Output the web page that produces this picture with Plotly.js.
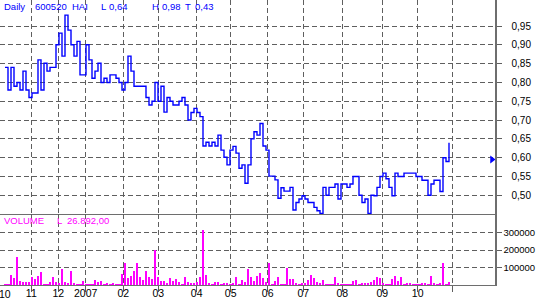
<!DOCTYPE html>
<html>
<head>
<meta charset="utf-8">
<script src="https://cdn.plot.ly/plotly-3.0.1.min.js"></script>
<style>html,body{margin:0;padding:0;background:#fff;}#chart{width:536px;height:303px;}</style>
</head>
<body>
<div id="chart"></div>
<script>
// ---- data (one entry per trading day, Oct 2006 .. Oct 2007) ----
const closePrices = [
0.84,0.78,0.84,0.79,0.80,0.78,0.83,0.78,0.76,0.772,
0.772,0.86,0.78,0.851,0.83,0.84,0.84,0.90,0.931,0.87,
0.979,0.939,0.90,0.87,0.909,0.82,0.82,0.90,0.86,0.811,
0.83,0.851,0.80,0.811,0.80,0.82,0.82,0.811,0.80,0.78,
0.80,0.87,0.83,0.79,0.79,0.79,0.79,0.76,0.74,0.75,
0.80,0.75,0.79,0.721,0.76,0.75,0.74,0.74,0.75,0.76,
0.74,0.70,0.72,0.731,0.72,0.709,0.631,0.641,0.631,0.641,
0.631,0.66,0.62,0.601,0.581,0.62,0.63,0.612,0.572,0.581,
0.532,0.581,0.65,0.669,0.66,0.691,0.631,0.62,0.551,0.551,
0.541,0.492,0.52,0.511,0.511,0.521,0.461,0.481,0.49,0.499,
0.49,0.481,0.481,0.468,0.459,0.452,0.521,0.50,0.521,0.521,
0.53,0.49,0.53,0.53,0.521,0.53,0.55,0.55,0.50,0.481,
0.49,0.452,0.50,0.499,0.521,0.55,0.559,0.544,0.521,0.499,
0.559,0.55,0.55,0.559,0.559,0.559,0.559,0.55,0.55,0.54,
0.54,0.50,0.53,0.54,0.54,0.51,0.60,0.59,0.64
];
const volumes = [
6000,5000,60000,39000,160000,25000,15000,15000,15000,44000,
35000,50000,73000,6000,5000,19000,48000,15000,12000,89000,
19000,12000,83000,12000,8000,5000,21000,5000,6000,5000,
31000,15000,25000,5000,12000,5000,12000,5000,6000,64000,
127000,42000,54000,83000,129000,44000,31000,83000,44000,35000,
199000,48000,25000,21000,10000,39000,25000,35000,15000,6000,
48000,15000,10000,10000,19000,44000,315000,60000,12000,5000,
19000,19000,8000,10000,10000,5000,10000,44000,6000,31000,
17000,89000,45000,23000,50000,70000,39000,19000,127000,8000,
23000,48000,6000,5000,95000,36000,33000,10000,5000,12000,
12000,30000,60000,42000,19000,12000,31000,8000,8000,8000,
48000,10000,5000,5000,6000,5000,21000,31000,5000,12000,
12000,10000,19000,31000,48000,39000,12000,5000,6000,35000,
54000,25000,44000,5000,10000,12000,5000,6000,5000,10000,
12000,5000,54000,10000,5000,12000,125000,6000,19000
];
// month boundaries (in trading-day units) and their labels
const monthStarts = [8.77,17.77,26.9,39.43,51.1,63.9,75.23,87.57,99.43,112.43,125.77,137.57,149.1];
const monthLabels = ['11','12','2007','02','03','04','05','06','07','08','09','10',''];
const firstMonthLabel = '10';
const priceTicks = [0.50,0.55,0.60,0.65,0.70,0.75,0.80,0.85,0.90,0.95];
const volumeTicks = [100000,200000,300000];
const markerLevel = 0.595;
const headerParts = ['Daily','600520','HAI','L','0,64','H','0,98','T','0,43'];
const volumeParts = ['VOLUME','L','26.892,00'];

// ---- chart ----
const W = 536, H = 303;
const days = closePrices.map((_, i) => i);
const xRange = [-5/3, 490/3];
const fmt = v => v.toFixed(2).replace('.', ',');
const gridCol = '#5f5f5f';
const lineCol = '#6e6e6e';
const font = 'Liberation Sans, Arial, sans-serif';

const traces = [
  {
    x: days, y: closePrices, type: 'scatter', mode: 'lines',
    line: {shape: 'hv', color: '#0000ff', width: 1.4},
    xaxis: 'x', yaxis: 'y', hoverinfo: 'skip'
  },
  {
    x: [xRange[1] - 1], y: [markerLevel], type: 'scatter', mode: 'markers',
    marker: {symbol: 'triangle-right', size: 7, color: '#0000ff'},
    xaxis: 'x', yaxis: 'y', hoverinfo: 'skip', cliponaxis: false
  },
  {
    x: days, y: volumes, type: 'bar',
    width: volumes.map(v => v < 9000 ? 1.0 : 0.45),
    marker: {color: '#ff00ff', line: {width: 0}},
    xaxis: 'x2', yaxis: 'y2', hoverinfo: 'skip'
  }
];

const pxX = p => p / W;
const pxY = p => 1 - p / H;
const headerX = [3, 34, 71, 100, 108, 151, 161, 184, 194];
const volX = [3, 56, 66];
const annotations = [];
headerParts.forEach((t, i) => annotations.push({
  text: t, xref: 'paper', yref: 'paper', x: pxX(headerX[i]), y: pxY(6.5),
  xanchor: 'left', yanchor: 'middle', showarrow: false, borderpad: 0,
  font: {family: font, size: 9.5, color: '#0000ff'}
}));
volumeParts.forEach((t, i) => annotations.push({
  text: t, xref: 'paper', yref: 'paper', x: pxX(volX[i]), y: pxY(220),
  xanchor: 'left', yanchor: 'middle', showarrow: false, borderpad: 0,
  font: {family: font, size: 9.5, color: '#ff00ff'}
}));
annotations.push({
  text: firstMonthLabel, xref: 'x2', yref: 'paper', x: 0, y: pxY(294),
  xanchor: 'center', yanchor: 'middle', showarrow: false, borderpad: 0,
  font: {family: font, size: 10.5, color: '#000'}
});

const commonX = {
  range: xRange, domain: [0, 495 / W], zeroline: false, fixedrange: true,
  tickvals: monthStarts, showgrid: true, gridcolor: gridCol, gridwidth: 1,
  griddash: '5px,3px', showline: true, linecolor: lineCol, linewidth: 1
};
const layout = {
  width: W, height: H, margin: {l: 0, r: 0, t: 0, b: 0},
  paper_bgcolor: '#fff', plot_bgcolor: '#fff', showlegend: false,
  hovermode: false, bargap: 0,
  xaxis: Object.assign({}, commonX, {anchor: 'y', showticklabels: false, ticks: ''}),
  xaxis2: Object.assign({}, commonX, {
    anchor: 'y2', ticktext: monthLabels, ticks: 'outside', ticklen: 6,
    tickcolor: gridCol, tickfont: {family: font, size: 10.5, color: '#000'},
    ticklabelstandoff: -8
  }),
  yaxis: {
    domain: [89 / H, 1], range: [0.4503, 1.0191], side: 'right', anchor: 'x',
    tickvals: priceTicks, ticktext: priceTicks.map(fmt), zeroline: false,
    showgrid: true, gridcolor: gridCol, griddash: '5px,3px', gridwidth: 1,
    ticks: 'outside', ticklen: 5, tickcolor: gridCol, showline: true,
    linecolor: lineCol, linewidth: 1.5, fixedrange: true,
    tickfont: {family: font, size: 10, color: '#000'}, ticklabelstandoff: 8
  },
  yaxis2: {
    domain: [18 / H, 89 / H], range: [0, 407000], side: 'right', anchor: 'x2',
    tickvals: volumeTicks, ticktext: volumeTicks.map(String), zeroline: false,
    showgrid: true, gridcolor: gridCol, griddash: '5px,3px', gridwidth: 1,
    ticks: 'outside', ticklen: 5, tickcolor: gridCol, showline: true,
    linecolor: lineCol, linewidth: 1.5, fixedrange: true,
    tickfont: {family: font, size: 9.5, color: '#000'}
  },
  annotations: annotations
};
Plotly.newPlot('chart', traces, layout, {staticPlot: true, displayModeBar: false});
</script>
</body>
</html>
